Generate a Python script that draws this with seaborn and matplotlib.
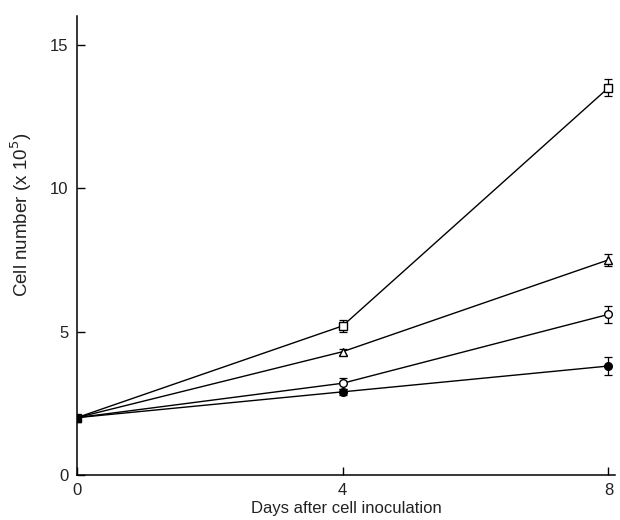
import pandas as pd
import numpy as np
import seaborn as sns
import matplotlib.pyplot as plt

days = [0, 4, 8]
square = [2.0, 5.2, 13.5]
square_err = [0.0, 0.2, 0.3]
triangle = [2.0, 4.3, 7.5]
triangle_err = [0.0, 0.1, 0.2]
open_circle = [2.0, 3.2, 5.6]
open_circle_err = [0.0, 0.2, 0.3]
filled_circle = [2.0, 2.9, 3.8]
filled_circle_err = [0.0, 0.1, 0.3]

sns.set_style('ticks')
plt.rcParams['font.family'] = ['Liberation Sans', 'DejaVu Sans']

series = [
    ('square', square, square_err, 's', 'white'),
    ('triangle', triangle, triangle_err, '^', 'white'),
    ('open', open_circle, open_circle_err, 'o', 'white'),
    ('filled', filled_circle, filled_circle_err, 'o', 'black'),
]

fig = plt.figure(figsize=(6.2, 5.2), dpi=100)
ax = fig.add_axes([0.124, 0.0865, 0.868, 0.8825])

for name, vals, err, mk, fc in series:
    df = pd.DataFrame({'day': days, 'cells': vals})
    ax.errorbar(days, vals, yerr=err, fmt='none', ecolor='black',
                elinewidth=0.9, capsize=3, capthick=0.9, zorder=2)
    sns.lineplot(data=df, x='day', y='cells', ax=ax, color='black',
                 linewidth=1.0, marker=mk, markersize=5.5,
                 markerfacecolor=fc, markeredgecolor='black',
                 markeredgewidth=1.0, zorder=3)

ax.set_xlim(0, 8.1)
ax.set_ylim(0, 16)
ax.set_xticks([0, 4, 8])
ax.set_yticks([0, 5, 10, 15])
ax.tick_params(direction='in', length=6, width=1, labelsize=12,
               color='black', labelcolor='#222222', pad=6)
ax.set_xlabel('Days after cell inoculation', fontsize=12, color='#222222', labelpad=2)
ax.set_ylabel('Cell number (x 10$^5$)', fontsize=13.5, color='#222222')
ax.yaxis.set_label_coords(-0.08, 0.566)
sns.despine(ax=ax)
for s in ['left', 'bottom']:
    ax.spines[s].set_linewidth(1.1)
    ax.spines[s].set_color('black')

plt.savefig('out.png', dpi=100)
